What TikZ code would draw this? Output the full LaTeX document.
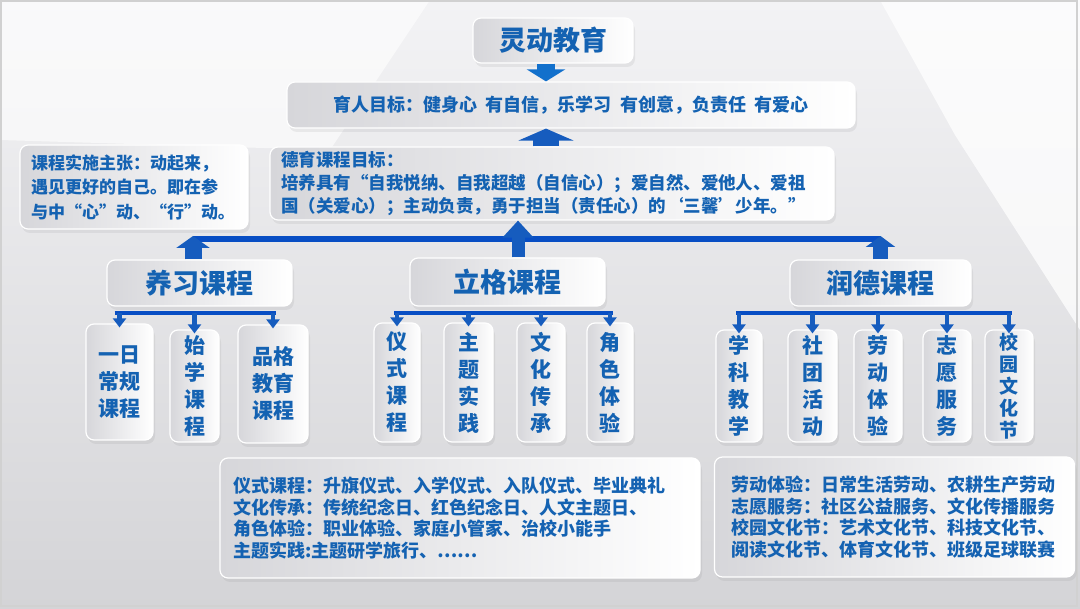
\documentclass[tikz,border=0pt]{standalone}
\usepackage{fontspec}
\setmainfont{Noto Sans CJK SC}
\usetikzlibrary{arrows.meta,shadows}
\definecolor{txtblue}{RGB}{20,98,178}
\definecolor{barblue}{RGB}{8,78,196}
\definecolor{arrblue}{RGB}{22,92,190}
\definecolor{downblue}{RGB}{18,112,204}
\definecolor{bgtop}{RGB}{243,243,245}
\definecolor{bgbot}{RGB}{212,212,215}
\definecolor{boxgrey}{RGB}{214,214,218}

\begin{document}
\begin{tikzpicture}[x=1pt, y=-1pt,
  box/.style={rounded corners=8pt, left color=boxgrey, right color=white,
    draw=white, line width=1.2pt, inner sep=0pt, text=txtblue,
    drop shadow={opacity=.12, shadow xshift=2pt, shadow yshift=-4pt}},
  bigfont/.style={font=\fontsize{27}{30}\selectfont\bfseries},
  sub/.style={box, align=center, font=\fontsize{21}{27}\selectfont\bfseries},
  bartxt/.style={box, align=left, font=\fontsize{18}{21.5}\selectfont\bfseries},
  uparr/.style n args={3}{draw=arrblue, line width=#1,
    -{Triangle[width=#2,length=#3]}},
  barline/.style={draw=barblue, line width=6pt},
  subbar/.style={draw=barblue, line width=4pt},
  subarr/.style={draw=arrblue, line width=4.5pt, shorten >=-4pt,
    -{Triangle[width=13pt,length=9pt]}}]

\useasboundingbox (0,0) rectangle (1080,609);
\shade[top color=bgtop, bottom color=bgbot] (0,0) rectangle (1080,609);
\fill[white, opacity=.6] (0,0) -- (430,0) -- (330,150) -- (0,140) -- cycle;
\fill[white, opacity=.75] (880,0) -- (1080,0) -- (1080,330) -- (955,135) -- cycle;
\draw[black!18, line width=1.5pt] (1,1) rectangle (1077,606);

\node[box, bigfont, minimum width=160pt, minimum height=45pt] (ldjy) at (553,40.5) {灵动教育};
\node[box, minimum width=568pt, minimum height=46pt,
  font=\fontsize{18}{20}\selectfont\bfseries] (yrmb) at (571,105)
  {育人目标：健身心~~有自信，乐学习~~有创意，负责任~~有爱心};

\node[box, align=left, text width=206pt, inner xsep=11pt, minimum height=84pt,
  font=\fontsize{17}{24.5}\selectfont\bfseries] (sszz) at (134,187)
  {课程实施主张：动起来，\\遇见更好的自己。即在参\\与中“心”动、“行”动。};
\node[box, align=left, text width=542pt, inner xsep=11pt, minimum height=73pt,
  font=\fontsize{17.5}{23}\selectfont\bfseries] (dymb) at (552,183.5)
  {德育课程目标：\\培养具有“自我悦纳、自我超越（自信心）；爱自然、爱他人、爱祖\\国（关爱心）；主动负责，勇于担当（责任心）的‘三馨’少年。”};

\node[box, bigfont, minimum width=185pt, minimum height=46pt] (yx) at (199.5,283) {养习课程};
\node[box, bigfont, minimum width=195pt, minimum height=48pt] (lg) at (507.5,282) {立格课程};
\node[box, bigfont, minimum width=181pt, minimum height=46pt] (rd) at (880.5,283) {润德课程};

% 养习
\node[sub, minimum width=67pt, minimum height=116pt] (s11) at (119.5,382) {一日\\常规\\课程};
\node[sub, minimum width=49pt, minimum height=112pt] (s12) at (194.5,386) {始\\学\\课\\程};
\node[sub, minimum width=70pt, minimum height=118pt] (s13) at (273,384) {品格\\教育\\课程};
% 立格
\node[sub, minimum width=46pt, minimum height=119pt] (s21) at (397,382.5) {仪\\式\\课\\程};
\node[sub, minimum width=49pt, minimum height=119pt] (s22) at (468.5,382.5) {主\\题\\实\\践};
\node[sub, minimum width=48pt, minimum height=119pt] (s23) at (541,382.5) {文\\化\\传\\承};
\node[sub, minimum width=46pt, minimum height=119pt] (s24) at (610,382.5) {角\\色\\体\\验};
% 润德
\node[sub, minimum width=46pt, minimum height=112pt] (s31) at (739,386) {学\\科\\教\\学};
\node[sub, minimum width=49pt, minimum height=112pt] (s32) at (812.5,386) {社\\团\\活\\动};
\node[sub, minimum width=48pt, minimum height=112pt] (s33) at (878,386) {劳\\动\\体\\验};
\node[sub, minimum width=48pt, minimum height=112pt] (s34) at (947,386) {志\\愿\\服\\务};
\node[sub, minimum width=48pt, minimum height=112pt,
  font=\fontsize{19}{22}\selectfont\bfseries] (s35) at (1009,386) {校\\园\\文\\化\\节};

\node[bartxt, text width=454pt, inner xsep=13pt, minimum height=120pt] (b1) at (460,518)
  {仪式课程：升旗仪式、入学仪式、入队仪式、毕业典礼\\
   文化传承：传统纪念日、红色纪念日、人文主题日、\\
   角色体验：职业体验、家庭小管家、治校小能手\\
   主题实践:主题研学旅行、……};
\node[bartxt, text width=326pt, inner xsep=17pt, minimum height=120pt] (b2) at (894.5,517)
  {劳动体验：日常生活劳动、农耕生产劳动\\
   志愿服务：社区公益服务、文化传播服务\\
   校园文化节：艺术文化节、科技文化节、\\
   阅读文化节、体育文化节、班级足球联赛};

\coordinate (bar) at (0,239);
\coordinate (sb) at (0,313);
\coordinate (a1) at (193,0);
\coordinate (a2) at (518,0);
\coordinate (a3) at (546,0);

\draw[draw=downblue, line width=18pt, -{Triangle[width=38pt,length=12pt]}]
  (a3 |- ldjy.south) -- (a3 |- yrmb.north);
\draw[uparr={26pt}{55pt}{12pt}] (a3 |- dymb.north) -- (a3 |- yrmb.south);

\draw[barline] (a1 |- bar) -- (rd.north |- bar);
\draw[uparr={17pt}{33pt}{12pt}, shorten >=-3pt] (a1 |- yx.north) -- (a1 |- bar);
\draw[uparr={13pt}{30pt}{17pt}] (a2 |- lg.north) -- (a2 |- dymb.south);
\draw[uparr={15pt}{29pt}{11pt}, shorten >=-3pt] (rd.north) -- (rd.north |- bar);

\draw[subbar, shorten <=-5pt, shorten >=-3pt] (s11.north |- sb) -- (s13.north |- sb);
\draw[subbar, shorten <=-3pt, shorten >=-3pt] (s21.north |- sb) -- (s24.north |- sb);
\draw[subbar, shorten <=-3pt, shorten >=-3pt] (s31.north |- sb) -- (s35.north |- sb);
\foreach \n in {s11,s12,s13,s21,s22,s23,s24,s31,s32,s33,s34,s35}
  \draw[subarr] (\n.north |- sb) -- (\n.north);

\end{tikzpicture}
\end{document}
